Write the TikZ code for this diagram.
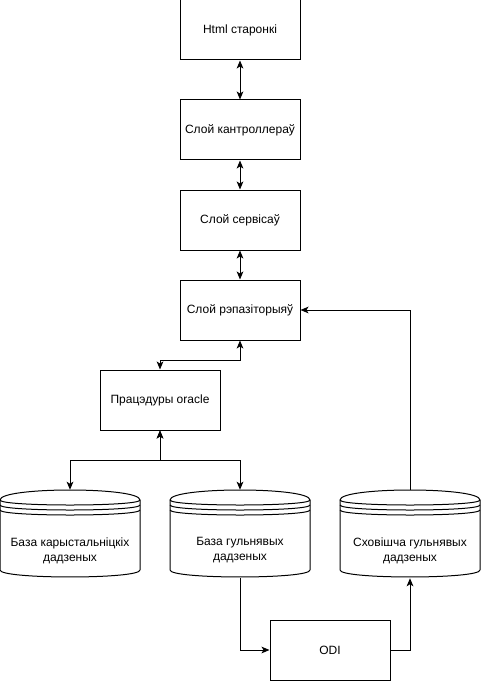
\documentclass[tikz,border=0pt]{standalone}
\usepackage{fontspec}
\setmainfont{Liberation Sans}
\usetikzlibrary{arrows.meta}
\tikzset{
  px/.style={x=0.75pt,y=-0.75pt},
  box/.style={draw,line width=0.75pt,minimum width=90pt,minimum height=45pt,inner sep=0pt,font=\fontsize{9pt}{11.25pt}\selectfont},
  cylnode/.style={draw=none,minimum width=105pt,minimum height=66pt,inner sep=0pt},
  cyltext/.style={align=center,inner sep=0pt,font=\fontsize{9pt}{11.25pt}\selectfont},
  ln/.style={line width=0.75pt},
  conn/.style={line width=0.75pt,-{Stealth[length=6pt,width=5pt,inset=1.5pt]}},
  biconn/.style={line width=0.75pt,{Stealth[length=6pt,width=5pt,inset=1.5pt]}-{Stealth[length=6pt,width=5pt,inset=1.5pt]}},
}
\newcommand{\mycyl}[4]{% #1 left x, #2 name, #3 text name, #4 text
  \node[cylnode] (#2) at ({#1+70},534) {};
  \draw[ln,fill=white] (#1,500) .. controls (#1,486.67) and ({#1+140},486.67) .. ({#1+140},500)
     -- ({#1+140},570) .. controls ({#1+140},579.3) and (#1,579.3) .. (#1,570) -- cycle;
  \draw[ln] (#1,500) .. controls (#1,506.67) and ({#1+140},506.67) .. ({#1+140},500);
  \draw[ln] (#1,505) .. controls (#1,511.67) and ({#1+140},511.67) .. ({#1+140},505);
  \draw[ln] (#1,510) .. controls (#1,516.67) and ({#1+140},516.67) .. ({#1+140},510);
  \node[cyltext] (#3) at ({#1+70},550.5) {#4};
}
\begin{document}
\begin{tikzpicture}[px]
\useasboundingbox (0,0) rectangle (481,681);
\node[box] (html) at (240,30) {Html старонкі};
\node[box] (ctrl) at (240,130) {Слой кантроллераў};
\node[box] (serv) at (240,220) {Слой сервісаў};
\node[box] (repo) at (240,310) {Слой рэпазіторыяў};
\node[box] (proc) at (160,400) {Працэдуры oracle};
\node[box] (odi) at (330,650) {ODI};
\mycyl{0}{c1}{c1t}{База карыстальніцкіх\\дадзеных}
\mycyl{170}{c2}{c2t}{База гульнявых\\дадзеных}
\mycyl{340}{c3}{c3t}{Сховішча гульнявых\\дадзеных}

\draw[biconn] (html.south) -- (ctrl.north);
\draw[biconn] (ctrl.south) -- (serv.north);
\draw[biconn] (serv.south) -- (repo.north);
\draw[biconn] (repo.south) -- ++(0,20) -| (proc.north);
\draw[biconn] (proc.south) -- ++(0,30) -| (c1.north);
\draw[biconn] (proc.south) -- ++(0,30) -| (c2.north);
\draw[conn] (c3.north) |- (repo.east);
\draw[conn] (c2.south) |- (odi.west);
\draw[conn] (odi.east) -| (c3.south);
\end{tikzpicture}
\end{document}
